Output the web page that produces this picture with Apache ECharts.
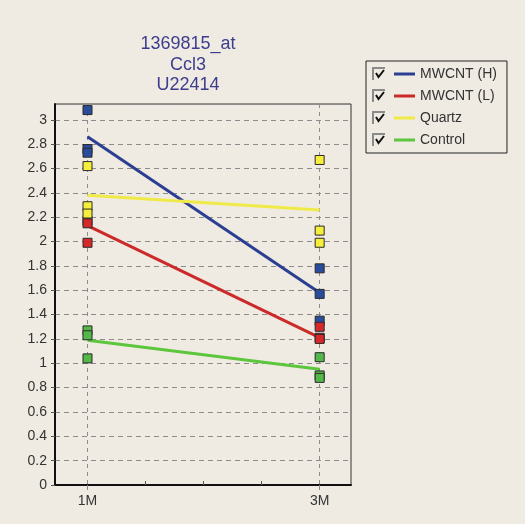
<!DOCTYPE html>
<html>
<head>
<meta charset="utf-8">
<script src="https://cdn.jsdelivr.net/npm/echarts@6/dist/echarts.min.js"></script>
<style>
html,body{margin:0;padding:0;background:#efebe2;}
#chart{width:525px;height:524px;}
</style>
</head>
<body>
<div id="chart"></div>
<script>
// ---- data ----
var categories = ['1M', '3M'];
var xPositions = [1, 3];
var seriesNames = ['MWCNT (H)', 'MWCNT (L)', 'Quartz', 'Control'];
var titleLines = ['1369815_at', 'Ccl3', 'U22414'];
var yTicks = [0, 0.2, 0.4, 0.6, 0.8, 1, 1.2, 1.4, 1.6, 1.8, 2, 2.2, 2.4, 2.6, 2.8, 3];

// replicate points per time point
var pointsH_1M = [3.08, 2.76, 2.73];
var pointsH_3M = [1.78, 1.57, 1.35];
var pointsL_1M = [2.17, 2.15, 1.99];
var pointsL_3M = [1.30, 1.21, 1.20];
var pointsQ_1M = [2.62, 2.29, 2.23];
var pointsQ_3M = [2.67, 2.09, 1.99];
var pointsC_1M = [1.27, 1.23, 1.04];
var pointsC_3M = [1.05, 0.90, 0.88];

// mean lines
var lineH = [2.86, 1.58];
var lineL = [2.13, 1.21];
var lineQ = [2.38, 2.26];
var lineC = [1.19, 0.95];

// ---- styling ----
var lineColors = ['#2c3e92', '#cc2a2a', '#f0ea48', '#5cc63c'];
var pointColors = ['#2a4c9c', '#d6282a', '#f5ee3a', '#52b848'];

var pointSets = [
  [pointsH_1M, pointsH_3M],
  [pointsL_1M, pointsL_3M],
  [pointsQ_1M, pointsQ_3M],
  [pointsC_1M, pointsC_3M]
];
var lineSets = [lineH, lineL, lineQ, lineC];

var series = [];
lineSets.forEach(function (vals, i) {
  series.push({
    name: seriesNames[i],
    type: 'line',
    data: vals.map(function (v, k) { return [xPositions[k], v]; }),
    symbol: 'none',
    lineStyle: { color: lineColors[i], width: 3 },
    itemStyle: { color: lineColors[i] },
    z: 2,
    silent: true
  });
});
pointSets.forEach(function (sets, i) {
  var d = [];
  sets.forEach(function (arr, k) {
    arr.forEach(function (v) { d.push([xPositions[k], v]); });
  });
  series.push({
    name: seriesNames[i] + ' points',
    type: 'scatter',
    data: d,
    symbol: 'rect',
    symbolSize: 9,
    itemStyle: { color: pointColors[i], borderColor: '#2a2a2a', borderWidth: 1, opacity: 1 },
    z: 3,
    silent: true
  });
});

var legendTop = 61, rowH = 22;
var checkGraphics = [];
seriesNames.forEach(function (n, i) {
  var c = legendTop + 13 + rowH * i;
  checkGraphics.push({
    type: 'polyline',
    shape: { points: [[373, c + 6], [373, c - 6], [385, c - 6]] },
    style: { stroke: '#8a8a8a', lineWidth: 2, fill: null },
    z: 10
  });
  checkGraphics.push({
    type: 'polyline',
    shape: { points: [[376, c - 1], [378.5, c + 3], [384, c - 4]] },
    style: { stroke: '#111', lineWidth: 2, fill: null },
    z: 10
  });
});

var option = {
  backgroundColor: '#efebe2',
  animation: false,
  textStyle: { fontFamily: 'Liberation Sans, Arial, sans-serif' },
  graphic: [{
    type: 'text',
    x: 188,
    y: 34,
    style: {
      text: titleLines.join('\n'),
      fontSize: 18,
      lineHeight: 20.5,
      fill: '#3d3d8f',
      align: 'center',
      verticalAlign: 'top',
      fontFamily: 'Liberation Sans, Arial, sans-serif'
    }
  }].concat(checkGraphics),
  legend: {
    orient: 'vertical',
    left: 366,
    top: legendTop,
    padding: [6, 10, 6, 28],
    data: seriesNames,
    icon: 'rect',
    itemWidth: 21,
    itemHeight: 3,
    itemGap: 8,
    selectedMode: false,
    borderColor: '#222',
    borderWidth: 1,
    textStyle: { fontSize: 14, lineHeight: 14, color: '#333', fontFamily: 'Liberation Sans, Arial, sans-serif' }
  },
  grid: {
    left: 55, right: 174, top: 104, bottom: 39,
    show: true, borderColor: '#333', borderWidth: 1, backgroundColor: 'transparent'
  },
  xAxis: [{
    type: 'value',
    min: 0.72, max: 3.27,
    axisLine: { show: true, onZero: false, lineStyle: { color: '#111', width: 2 } },
    axisTick: { show: true, customValues: xPositions, length: 5, lineStyle: { color: '#888' } },
    axisLabel: {
      customValues: xPositions,
      formatter: function (v) { var k = xPositions.indexOf(v); return k >= 0 ? categories[k] : ''; },
      fontSize: 14, color: '#333', margin: 9
    },
    splitLine: { show: true, lineStyle: { color: '#8c8c8c', type: [4, 4], width: 1 } }
  }, {
    type: 'value',
    position: 'bottom',
    min: 0.72, max: 3.27,
    axisLine: { show: false },
    axisTick: { show: true, inside: true, customValues: [1.5, 2, 2.5], length: 4, lineStyle: { color: '#555' } },
    axisLabel: { show: false },
    splitLine: { show: false }
  }],
  yAxis: {
    type: 'value',
    min: 0, max: 3.13, interval: 0.2,
    axisLine: { show: true, onZero: false, lineStyle: { color: '#111', width: 2 } },
    axisTick: { show: true, length: 4, lineStyle: { color: '#555' } },
    axisLabel: {
      fontSize: 14, color: '#333', margin: 8, showMaxLabel: false,
      formatter: function (v) { return yTicks.indexOf(Math.round(v * 10) / 10) >= 0 ? String(Math.round(v * 10) / 10) : ''; }
    },
    splitLine: { show: true, lineStyle: { color: '#8c8c8c', type: [5, 4], width: 1 } }
  },
  series: series
};

var chart = echarts.init(document.getElementById('chart'));
chart.setOption(option);
</script>
</body>
</html>
